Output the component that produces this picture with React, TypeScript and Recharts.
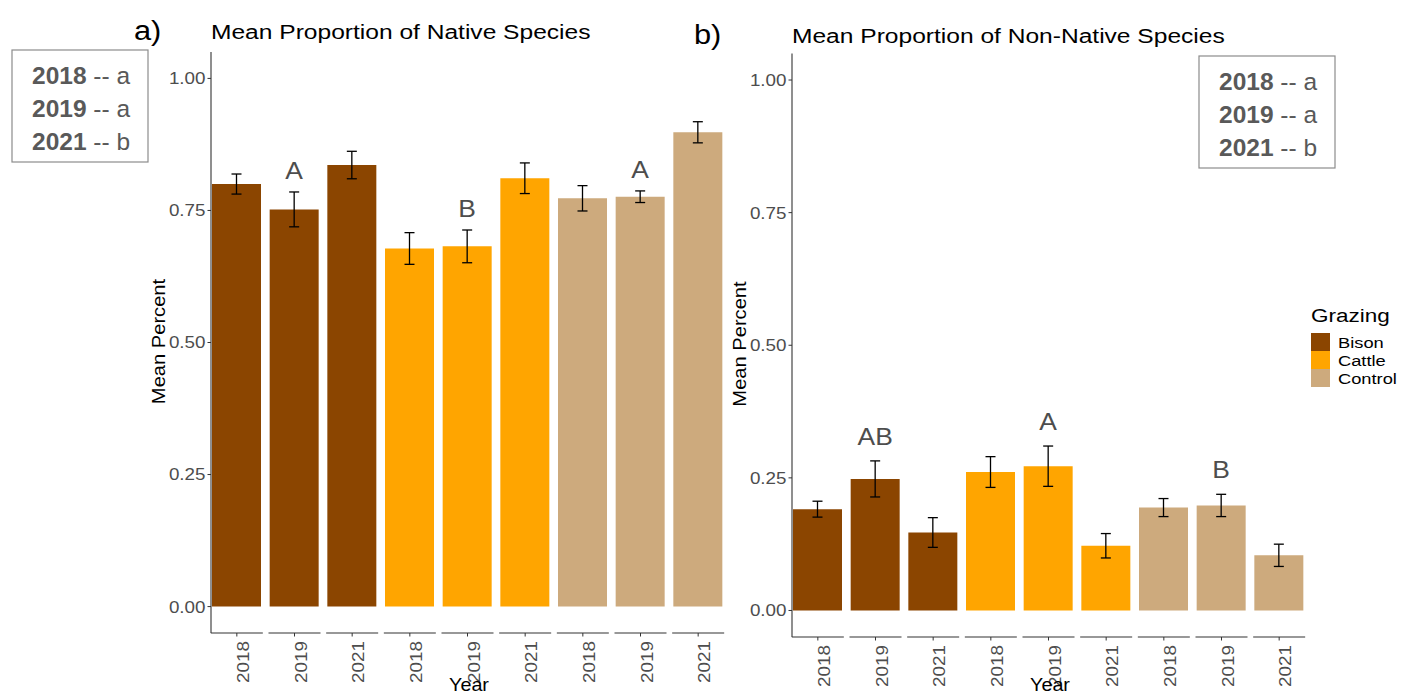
import React from 'react'
import { ComposedChart, Bar, Cell, XAxis, YAxis, ErrorBar, LabelList } from 'recharts'

const grazing = ['Bison', 'Cattle', 'Control']
const years = ['2018', '2019', '2021']
const grazingColors = ['#8B4500', '#FFA500', '#CDAA7D']

// one value per grazing x year, in the order Bison 2018..Control 2021
const nativeMean = [0.800, 0.752, 0.836, 0.678, 0.682, 0.811, 0.773, 0.776, 0.898]
const nativeSe = [0.019, 0.033, 0.026, 0.030, 0.031, 0.029, 0.024, 0.011, 0.020]
const nativeLetters = ['', 'A', '', '', 'B', '', '', 'A', '']

const nonNativeMean = [0.191, 0.248, 0.147, 0.261, 0.272, 0.122, 0.194, 0.198, 0.104]
const nonNativeSe = [0.015, 0.034, 0.028, 0.029, 0.038, 0.023, 0.017, 0.021, 0.021]
const nonNativeLetters = ['', 'AB', '', '', 'A', '', '', 'B', '']

const yTicks = [0, 0.25, 0.5, 0.75, 1]
const yearGroups = [['2018', 'a'], ['2019', 'a'], ['2021', 'b']]

const FONT = "'Liberation Sans', Arial, Helvetica, sans-serif"
const GREY = '#4d4d4d'

type Row = { key: string; year: string; group: number; mean: number; se: number; letter: string }

function buildRows(mean: number[], se: number[], letters: string[]): Row[] {
  const rows: Row[] = []
  grazing.forEach((g, gi) => {
    years.forEach((y, yi) => {
      const i = gi * years.length + yi
      rows.push({ key: `${g}-${y}`, year: y, group: gi, mean: mean[i], se: se[i], letter: letters[i] })
    })
  })
  return rows
}

const nativeRows = buildRows(nativeMean, nativeSe, nativeLetters)
const nonNativeRows = buildRows(nonNativeMean, nonNativeSe, nonNativeLetters)

// x axis drawn as one short segment per bar, like separate facet panels
function YearTick(props: any) {
  const { x, y, payload, rows } = props
  const row = rows.find((r: Row) => r.key === payload.value)
  return (
    <g>
      <line x1={x - 26} x2={x + 26} y1={y} y2={y} stroke="#333" strokeWidth={1.1} />
      <line x1={x} x2={x} y1={y} y2={y + 3.5} stroke="#333" strokeWidth={1} />
      <text
        transform={`translate(${x + 12},${y + 8}) rotate(-90) scale(1.18,1)`}
        textAnchor="end"
        fontSize={16}
        fill={GREY}
        fontFamily={FONT}
      >
        {row ? row.year : ''}
      </text>
    </g>
  )
}

function ValueTick(props: any) {
  const { x, y, payload } = props
  return (
    <text
      transform={`translate(${x},${y}) scale(1.14,1)`}
      textAnchor="end"
      dy="0.36em"
      fontSize={16.5}
      fill={GREY}
      fontFamily={FONT}
    >
      {Number(payload.value).toFixed(2)}
    </text>
  )
}

function Panel({ rows, width, height, margin, letterGap }: { rows: Row[]; width: number; height: number; margin: any; letterGap: number }) {
  const renderLetter = (p: any) => {
    const { x, y, width: w, height: h, index, value } = p
    if (!value) return null
    const row = rows[index]
    const errPx = row.mean > 0 ? (row.se * h) / row.mean : 0
    return (
      <text
        transform={`translate(${x + w / 2},${y - errPx - letterGap}) scale(1.1,1)`}
        textAnchor="middle"
        fontSize={24}
        fill={GREY}
        fontFamily={FONT}
      >
        {value}
      </text>
    )
  }
  return (
    <ComposedChart width={width} height={height} data={rows} margin={margin}>
      <XAxis
        dataKey="key"
        axisLine={false}
        tickLine={false}
        tickSize={0}
        tickMargin={0}
        height={55}
        interval={0}
        padding={{ left: -3, right: 0 }}
        tick={<YearTick rows={rows} />}
      />
      <YAxis
        type="number"
        domain={[-0.05, 1.05]}
        ticks={yTicks}
        allowDataOverflow
        width={60}
        tickSize={3.5}
        tickMargin={2}
        axisLine={{ stroke: '#333', strokeWidth: 1.1 }}
        tickLine={{ stroke: '#333' }}
        tick={<ValueTick />}
      />
      <Bar dataKey="mean" barSize={49} isAnimationActive={false}>
        {rows.map((r) => (
          <Cell key={r.key} fill={grazingColors[r.group]} />
        ))}
        <ErrorBar dataKey="se" width={5} stroke="#000" strokeWidth={1.3} />
        <LabelList dataKey="letter" content={renderLetter} />
      </Bar>
    </ComposedChart>
  )
}

function YearBox({ x, y }: { x: number; y: number }) {
  return (
    <g>
      <rect x={x} y={y} width={136} height={112} fill="#fff" stroke="#8c8c8c" strokeWidth={1.2} />
      {yearGroups.map(([yr, l], i) => (
        <text key={yr} x={x + 20} y={y + 34 + i * 33} fontSize={24.5} fill="#595959" fontFamily={FONT}>
          <tspan fontWeight="bold">{yr}</tspan> -- {l}
        </text>
      ))}
    </g>
  )
}

export default function App() {
  return (
    <div style={{ position: 'absolute', left: 0, top: 0, width: 1403, height: 695, background: '#fff', overflow: 'hidden', fontFamily: FONT }}>
      <div style={{ position: 'absolute', left: 0, top: 0 }}>
        <Panel rows={nativeRows} width={740} height={695} margin={{ top: 52, right: 13, bottom: 7, left: 151 }} letterGap={13} />
      </div>
      <div style={{ position: 'absolute', left: 700, top: 0 }}>
        <Panel rows={nonNativeRows} width={640} height={695} margin={{ top: 53.5, right: 32, bottom: 3, left: 32 }} letterGap={16} />
      </div>
      <svg width={1403} height={695} style={{ position: 'absolute', left: 0, top: 0, pointerEvents: 'none' }}>
        <text transform="translate(134,40) scale(1.1,1)" fontSize={28} fill="#000" fontFamily={FONT}>a)</text>
        <text transform="translate(694,44) scale(1.1,1)" fontSize={28} fill="#000" fontFamily={FONT}>b)</text>
        <text transform="translate(211,39) scale(1.17,1)" fontSize={21} fill="#000" fontFamily={FONT}>Mean Proportion of Native Species</text>
        <text transform="translate(792,43) scale(1.17,1)" fontSize={21} fill="#000" fontFamily={FONT}>Mean Proportion of Non-Native Species</text>

        <text transform="translate(165,341.5) rotate(-90) scale(1.06,1)" textAnchor="middle" fontSize={19} fill="#000" fontFamily={FONT}>Mean Percent</text>
        <text transform="translate(746,344) rotate(-90) scale(1.06,1)" textAnchor="middle" fontSize={19} fill="#000" fontFamily={FONT}>Mean Percent</text>
        <text transform="translate(469,691) scale(1.04,1)" textAnchor="middle" fontSize={19} fill="#000" fontFamily={FONT}>Year</text>
        <text transform="translate(1050,691) scale(1.04,1)" textAnchor="middle" fontSize={19} fill="#000" fontFamily={FONT}>Year</text>

        <YearBox x={12} y={50} />
        <YearBox x={1199} y={56} />

        <text transform="translate(1311,322) scale(1.25,1)" fontSize={18} fill="#000" fontFamily={FONT}>Grazing</text>
        {grazing.map((g, i) => (
          <g key={g}>
            <rect x={1311} y={333 + i * 18} width={19} height={18} fill={grazingColors[i]} />
            <text transform={`translate(1338,${347.5 + i * 18}) scale(1.18,1)`} fontSize={15.5} fill="#000" fontFamily={FONT}>{g}</text>
          </g>
        ))}
      </svg>
    </div>
  )
}
